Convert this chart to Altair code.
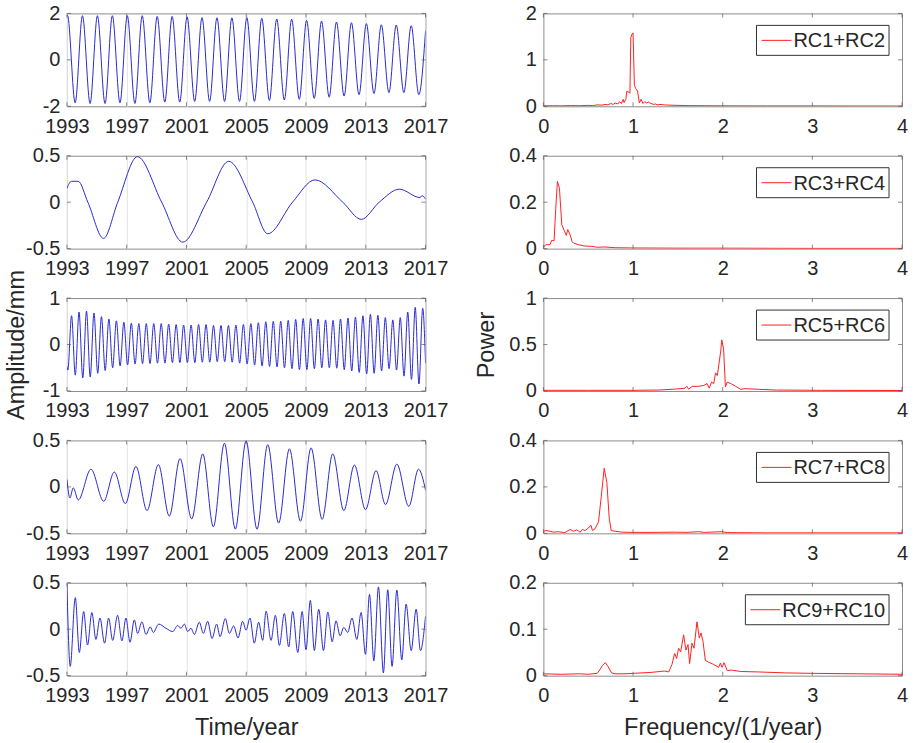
import altair as alt
import pandas as pd

FONT = "Liberation Sans"
TXT = "#262626"
BLUE = "#2a2ad0"
RED = "#ff2020"
W, H = 359, 93

YEAR_TICKS = [1993, 1997, 2001, 2005, 2009, 2013, 2017]
FREQ_TICKS = [0, 1, 2, 3, 4]

# ---------- reconstructed components (time, amplitude in mm) ----------
# RC1+RC2: annual cycle, listed by its maxima and minima
rc12_peak_t = [1993.0, 1993.04, 1994.04, 1995.04, 1996.04, 1997.04, 1998.04, 1999.04, 2000.04,
               2001.04, 2002.04, 2003.04, 2004.04, 2005.04, 2006.04, 2007.04, 2008.04,
               2009.04, 2010.04, 2011.04, 2012.04, 2013.04, 2014.04, 2015.04, 2016.04, 2017.0]
rc12_peak_v = [1.89, 1.91, 1.90, 1.90, 1.90, 1.90, 1.90, 1.87, 1.87,
               1.85, 1.82, 1.81, 1.81, 1.82, 1.79, 1.76, 1.75,
               1.70, 1.67, 1.63, 1.60, 1.56, 1.51, 1.50, 1.47, 1.25]
rc12_trough_t = [1993.55, 1994.55, 1995.55, 1996.55, 1997.55, 1998.55, 1999.55, 2000.55,
                 2001.55, 2002.55, 2003.55, 2004.55, 2005.55, 2006.55, 2007.55, 2008.55,
                 2009.55, 2010.55, 2011.55, 2012.55, 2013.55, 2014.55, 2015.55, 2016.55]
rc12_trough_v = [-1.85, -1.88, -1.88, -1.85, -1.88, -1.85, -1.82, -1.82,
                 -1.79, -1.79, -1.79, -1.79, -1.79, -1.75, -1.73, -1.70,
                 -1.66, -1.61, -1.56, -1.50, -1.45, -1.41, -1.41, -1.50]

# RC3+RC4: long-period oscillation
rc34_t = [1993.0, 1993.3, 1993.75, 1994.4, 1995.45, 1996.4, 1997.72, 1999.34, 2000.75,
          2002.35, 2003.83, 2005.43, 2006.44, 2008.1, 2009.6, 2011.46, 2012.7, 2013.9,
          2015.25, 2016.63, 2016.76, 2017.0]
rc34_v = [0.15, 0.225, 0.225, 0.0, -0.39, 0.0, 0.49, 0.0, -0.43,
          0.0, 0.44, 0.0, -0.34, 0.0, 0.24, 0.0, -0.185, 0.0,
          0.14, 0.05, 0.07, 0.035]

# RC5+RC6: semi-annual cycle
rc56_peak_t = [1993.31, 1993.81, 1994.31, 1994.81, 1995.31, 1995.81, 1996.31, 1996.81,
               1997.31, 1997.81, 1998.31, 1998.81, 1999.31, 1999.81, 2000.31, 2000.81,
               2001.31, 2001.81, 2002.31, 2002.81, 2003.31, 2003.81, 2004.31, 2004.81,
               2005.31, 2005.81, 2006.31, 2006.81, 2007.31, 2007.81, 2008.31, 2008.81,
               2009.31, 2009.81, 2010.31, 2010.81, 2011.31, 2011.81, 2012.31, 2012.81,
               2013.31, 2013.81, 2014.31, 2014.81, 2015.31, 2015.81, 2016.31, 2016.81]
rc56_peak_v = [0.62, 0.70, 0.72, 0.68, 0.60, 0.55, 0.51, 0.48,
               0.46, 0.45, 0.45, 0.45, 0.45, 0.44, 0.43, 0.42,
               0.42, 0.43, 0.43, 0.41, 0.41, 0.41, 0.42, 0.43,
               0.45, 0.47, 0.49, 0.50, 0.50, 0.52, 0.54, 0.56,
               0.56, 0.55, 0.53, 0.52, 0.55, 0.57, 0.59, 0.62,
               0.65, 0.63, 0.58, 0.53, 0.58, 0.70, 0.80, 0.78]
rc56_trough_t = [1993.0, 1993.06, 1993.56, 1994.06, 1994.56, 1995.06, 1995.56, 1996.06, 1996.56,
                 1997.06, 1997.56, 1998.06, 1998.56, 1999.06, 1999.56, 2000.06, 2000.56,
                 2001.06, 2001.56, 2002.06, 2002.56, 2003.06, 2003.56, 2004.06, 2004.56,
                 2005.06, 2005.56, 2006.06, 2006.56, 2007.06, 2007.56, 2008.06, 2008.56,
                 2009.06, 2009.56, 2010.06, 2010.56, 2011.06, 2011.56, 2012.06, 2012.56,
                 2013.06, 2013.56, 2014.06, 2014.56, 2015.06, 2015.56, 2016.06, 2016.56, 2017.0]
rc56_trough_v = [-0.47, -0.55, -0.66, -0.72, -0.70, -0.62, -0.56, -0.50, -0.46,
                 -0.44, -0.42, -0.41, -0.41, -0.40, -0.40, -0.39, -0.39,
                 -0.39, -0.39, -0.38, -0.38, -0.37, -0.37, -0.38, -0.40,
                 -0.42, -0.44, -0.46, -0.47, -0.48, -0.50, -0.52, -0.54,
                 -0.54, -0.52, -0.50, -0.50, -0.51, -0.54, -0.57, -0.60,
                 -0.63, -0.62, -0.57, -0.52, -0.55, -0.68, -0.75, -0.85, -0.40]

# RC7+RC8: ~1.5-year oscillation
rc78_t = [1993.0, 1993.2, 1993.42, 1993.76, 1994.61, 1995.46, 1996.17, 1996.91, 1997.62,
          1998.36, 1999.12, 1999.85, 2000.57, 2001.35, 2002.09, 2002.8, 2003.54, 2004.27,
          2004.99, 2005.72, 2006.44, 2007.17, 2007.89, 2008.63, 2009.34, 2010.08, 2010.79,
          2011.53, 2012.24, 2012.98, 2013.69, 2014.32, 2015.08, 2015.88, 2016.53, 2017.0]
rc78_v = [0.08, -0.12, -0.01, -0.14, 0.19, -0.155, 0.16, -0.18, 0.22,
          -0.255, 0.24, -0.315, 0.305, -0.345, 0.355, -0.43, 0.47, -0.455,
          0.495, -0.455, 0.455, -0.39, 0.41, -0.37, 0.42, -0.35, 0.355,
          -0.255, 0.235, -0.245, 0.175, -0.19, 0.245, -0.21, 0.19, -0.035]

# RC9+RC10: higher-frequency mixed oscillation
rc910_t = [1993.0, 1993.22, 1993.56, 1993.83, 1994.12, 1994.38, 1994.67, 1994.94, 1995.21,
           1995.52, 1995.79, 1996.06, 1996.39, 1996.68, 1996.95, 1997.22, 1997.51, 1997.73,
           1998.02, 1998.29, 1998.58, 1998.78, 1999.14, 1999.63, 2000.08, 2000.41, 2000.63,
           2000.86, 2001.08, 2001.3, 2001.53, 2001.86, 2002.13, 2002.42, 2002.71, 2003.02,
           2003.25, 2003.6, 2003.87, 2004.16, 2004.45, 2004.76, 2004.99, 2005.25, 2005.54,
           2005.83, 2006.1, 2006.33, 2006.66, 2006.95, 2007.22, 2007.55, 2007.84, 2008.11,
           2008.45, 2008.74, 2009.0, 2009.29, 2009.56, 2009.85, 2010.17, 2010.46, 2010.75,
           2011.01, 2011.28, 2011.53, 2011.79, 2012.08, 2012.4, 2012.69, 2012.98, 2013.25,
           2013.54, 2013.85, 2014.18, 2014.47, 2014.76, 2015.08, 2015.41, 2015.7, 2016.04,
           2016.37, 2016.66, 2017.0]
rc910_v = [0.49, -0.40, 0.34, -0.25, 0.19, -0.17, 0.18, -0.11, 0.12,
           -0.15, 0.12, -0.12, 0.15, -0.125, 0.12, -0.14, 0.10, -0.045,
           0.08, -0.055, 0.025, -0.035, 0.055, 0.01, -0.025, 0.04, 0.01,
           0.055, -0.025, 0.01, -0.055, 0.075, -0.045, 0.085, -0.10, 0.055,
           -0.08, 0.115, -0.045, 0.035, -0.095, 0.085, -0.01, 0.12, -0.15,
           0.075, -0.12, 0.195, -0.12, 0.15, -0.175, 0.17, -0.19, 0.19,
           -0.25, 0.19, -0.22, 0.31, -0.23, 0.215, -0.23, 0.185, -0.135,
           0.09, -0.07, 0.02, -0.035, 0.12, -0.11, 0.18, -0.27, 0.375,
           -0.34, 0.455, -0.47, 0.425, -0.40, 0.42, -0.33, 0.27, -0.23,
           0.215, -0.23, 0.14]

# ---------- power spectra (frequency in 1/year) ----------
sp12_f = [0, 0.1, 0.2, 0.3, 0.4, 0.5, 0.55, 0.6, 0.65, 0.7, 0.72, 0.75, 0.78, 0.8, 0.83, 0.85,
          0.87, 0.89, 0.9, 0.92, 0.93, 0.95, 0.965, 0.975, 0.99, 1.0, 1.015, 1.03, 1.05, 1.07,
          1.09, 1.11, 1.13, 1.15, 1.17, 1.2, 1.23, 1.25, 1.27, 1.3, 1.35, 1.4, 1.5, 1.6, 1.8,
          2.0, 2.5, 3.0, 3.5, 4.0]
sp12_p = [0.01, 0.012, 0.01, 0.015, 0.012, 0.02, 0.015, 0.03, 0.025, 0.04, 0.03, 0.06, 0.04,
          0.07, 0.05, 0.1, 0.06, 0.15, 0.08, 0.15, 0.32, 0.31, 0.28, 1.48, 1.56, 1.58, 0.45,
          0.38, 0.33, 0.07, 0.15, 0.06, 0.1, 0.07, 0.09, 0.06, 0.04, 0.05, 0.03, 0.04, 0.03,
          0.025, 0.02, 0.015, 0.012, 0.01, 0.008, 0.008, 0.006, 0.005]

sp34_f = [0, 0.026, 0.074, 0.093, 0.119, 0.138, 0.156, 0.179, 0.205, 0.235, 0.255, 0.272,
          0.298, 0.32, 0.335, 0.39, 0.465, 0.54, 0.6, 0.69, 0.8, 0.99, 1.5, 2.0, 3.0, 4.0]
sp34_p = [0.005, 0.017, 0.017, 0.036, 0.034, 0.174, 0.289, 0.26, 0.103, 0.075, 0.057, 0.082,
          0.06, 0.03, 0.024, 0.017, 0.011, 0.01, 0.006, 0.007, 0.004, 0.003, 0.002, 0.002,
          0.001, 0.001]

sp56_f = [0, 0.5, 1.0, 1.285, 1.47, 1.58, 1.60, 1.62, 1.66, 1.73, 1.79, 1.825, 1.85, 1.875,
          1.90, 1.92, 1.94, 1.955, 1.978, 1.99, 2.01, 2.03, 2.05, 2.09, 2.14, 2.20, 2.25, 2.40,
          2.60, 3.10, 4.0]
sp56_p = [0.007, 0.007, 0.007, 0.01, 0.02, 0.03, 0.05, 0.02, 0.05, 0.05, 0.06, 0.08, 0.03,
          0.095, 0.08, 0.195, 0.166, 0.27, 0.43, 0.55, 0.45, 0.043, 0.095, 0.08, 0.053, 0.018,
          0.025, 0.018, 0.01, 0.007, 0.005]

sp78_f = [0, 0.026, 0.074, 0.112, 0.168, 0.24, 0.298, 0.335, 0.37, 0.41, 0.436, 0.465, 0.503,
          0.53, 0.547, 0.577, 0.615, 0.645, 0.678, 0.708, 0.734, 0.756, 0.8, 0.875, 0.99, 1.2,
          1.47, 1.6, 1.73, 1.8, 1.99, 2.05, 2.5, 3.0, 4.0]
sp78_p = [0.007, 0.012, 0.009, 0.005, 0.007, 0.003, 0.017, 0.009, 0.015, 0.005, 0.017, 0.012,
          0.023, 0.035, 0.012, 0.02, 0.05, 0.157, 0.28, 0.218, 0.065, 0.012, 0.009, 0.005,
          0.004, 0.004, 0.005, 0.004, 0.007, 0.004, 0.007, 0.003, 0.002, 0.002, 0.002]

sp910_f = [0, 0.2, 0.4, 0.5, 0.6, 0.62, 0.66, 0.69, 0.72, 0.76, 0.8, 0.9, 1.0, 1.1, 1.2, 1.3,
           1.35, 1.397, 1.434, 1.464, 1.486, 1.508, 1.531, 1.564, 1.59, 1.613, 1.631, 1.657,
           1.68, 1.713, 1.739, 1.758, 1.78, 1.806, 1.844, 1.9, 1.955, 1.974, 1.993, 2.015,
           2.05, 2.1, 2.2, 2.4, 2.7, 3.0, 3.5, 4.0]
sp910_p = [0.004, 0.003, 0.004, 0.003, 0.005, 0.01, 0.022, 0.028, 0.02, 0.006, 0.004, 0.004,
           0.005, 0.006, 0.007, 0.009, 0.01, 0.008, 0.024, 0.048, 0.037, 0.059, 0.051, 0.088,
           0.055, 0.067, 0.026, 0.07, 0.059, 0.116, 0.081, 0.092, 0.074, 0.033, 0.029, 0.024,
           0.018, 0.027, 0.018, 0.028, 0.011, 0.012, 0.009, 0.008, 0.006, 0.005, 0.004, 0.003]

SERIES_NAMES = ["RC1+RC2", "RC3+RC4", "RC5+RC6", "RC7+RC8", "RC9+RC10"]


def merged(t_lists, v_lists):
    t = [x for lst in t_lists for x in lst]
    v = [x for lst in v_lists for x in lst]
    return pd.DataFrame({"t": t, "v": v}).sort_values("t").reset_index(drop=True)


components = [
    (merged([rc12_peak_t, rc12_trough_t], [rc12_peak_v, rc12_trough_v]), [-2, 2], [-2, 0, 2]),
    (merged([rc34_t], [rc34_v]), [-0.5, 0.5], [-0.5, 0, 0.5]),
    (merged([rc56_peak_t, rc56_trough_t], [rc56_peak_v, rc56_trough_v]), [-1, 1], [-1, 0, 1]),
    (merged([rc78_t], [rc78_v]), [-0.5, 0.5], [-0.5, 0, 0.5]),
    (merged([rc910_t], [rc910_v]), [-0.5, 0.5], [-0.5, 0, 0.5]),
]

spectra = [
    (sp12_f, sp12_p, [0, 2], [0, 1, 2]),
    (sp34_f, sp34_p, [0, 0.4], [0, 0.2, 0.4]),
    (sp56_f, sp56_p, [0, 1], [0, 0.5, 1]),
    (sp78_f, sp78_p, [0, 0.4], [0, 0.2, 0.4]),
    (sp910_f, sp910_p, [0, 0.2], [0, 0.1, 0.2]),
]

# approximate Arial advance widths (em) used to size the legend box
CHAR_EM = {"R": 0.722, "C": 0.722, "+": 0.584}
LEGEND_FS = 20


def text_width(s, fs):
    return sum(CHAR_EM.get(ch, 0.556) for ch in s) * fs


def inner_ticks(xvals, yvals, xenc, yenc):
    """Short inward tick marks on all four sides of the box."""
    xdf = pd.DataFrame({"t": xvals})
    ydf = pd.DataFrame({"v": yvals})
    layers = []
    for ypix in (2, H - 2):
        layers.append(alt.Chart(xdf).mark_tick(color="#555555", size=4, thickness=1).encode(
            x=xenc, y=alt.value(ypix)))
    for xpix in (2, W - 2):
        layers.append(alt.Chart(ydf).mark_tick(color="#555555", size=4, thickness=1).encode(
            y=yenc, x=alt.value(xpix)))
    return layers


def legend_box(name):
    """Boxed legend in the top-right corner: red sample line plus series name."""
    df = pd.DataFrame({"series": [name]})
    right, top, bh = W - 13, 12, 30
    left = right - (41 + text_width(name, LEGEND_FS))
    mid = top + bh / 2
    box = alt.Chart(df).mark_rect(fill="white", stroke="#333333", strokeWidth=1).encode(
        x=alt.value(left), x2=alt.value(right), y=alt.value(top), y2=alt.value(top + bh))
    sample = alt.Chart(df).mark_rule(color=RED, strokeWidth=1).encode(
        x=alt.value(left + 5), x2=alt.value(left + 35), y=alt.value(mid))
    label = alt.Chart(df).mark_text(align="left", baseline="middle", font=FONT,
                                    fontSize=LEGEND_FS, color=TXT).encode(
        text="series:N", x=alt.value(left + 37), y=alt.value(mid + 1))
    return [box, sample, label]


def left_panel(i):
    df, ydom, yticks = components[i]
    xenc = alt.X("t:Q", scale=alt.Scale(domain=[1993, 2017], nice=False, zero=False),
                 axis=alt.Axis(values=YEAR_TICKS, format="d", grid=True, gridColor="#e3e3e3",
                               labelFlush=False, labelOverlap=False),
                 title="Time/year" if i == 4 else None)
    yenc = alt.Y("v:Q", scale=alt.Scale(domain=ydom, nice=False, zero=False),
                 axis=alt.Axis(values=yticks, labelExpr="toString(datum.value)", grid=False,
                               labelFlush=False, labelOverlap=False, titlePadding=14),
                 title="Amplitude/mm" if i == 2 else None)
    line = alt.Chart(df).mark_line(color=BLUE, strokeWidth=1, interpolate="monotone",
                                   clip=True).encode(x=xenc, y=yenc)
    return alt.layer(line, *inner_ticks(YEAR_TICKS, yticks, xenc, yenc)).properties(width=W, height=H)


def right_panel(i):
    f, p, ydom, yticks = spectra[i]
    df = pd.DataFrame({"t": f, "v": p})
    xenc = alt.X("t:Q", scale=alt.Scale(domain=[0, 4], nice=False, zero=False),
                 axis=alt.Axis(values=FREQ_TICKS, grid=False, labelFlush=False, labelOverlap=False),
                 title="Frequency/(1/year)" if i == 4 else None)
    yenc = alt.Y("v:Q", scale=alt.Scale(domain=ydom, nice=False, zero=False),
                 axis=alt.Axis(values=yticks, labelExpr="toString(datum.value)", grid=False,
                               labelFlush=False, labelOverlap=False, titlePadding=10),
                 title="Power" if i == 2 else None)
    line = alt.Chart(df).mark_line(color=RED, strokeWidth=1, clip=True).encode(x=xenc, y=yenc)
    return alt.layer(line, *inner_ticks(FREQ_TICKS, yticks, xenc, yenc),
                     *legend_box(SERIES_NAMES[i])).properties(width=W, height=H)


# 5 x 2 grid, filled row by row: component on the left, its spectrum on the right
panels = []
for i in range(5):
    panels.append(left_panel(i))
    panels.append(right_panel(i))

chart = alt.concat(*panels, columns=2, spacing={"row": 49.5, "column": 118},
                   bounds="flush").resolve_scale(
    x="independent", y="independent"
).properties(
    padding={"left": 3, "top": 2, "right": 5, "bottom": 5},
    background="white",
).configure_view(
    stroke="#8c8c8c", strokeWidth=1
).configure_axis(
    domain=False, ticks=False,
    labelFont=FONT, labelFontSize=20, labelColor=TXT, labelPadding=7,
    titleFont=FONT, titleFontSize=23.5, titleFontWeight="normal", titleColor=TXT,
).configure_axisX(
    labelPadding=10, titlePadding=10,
)

chart.save("out.html", embed_options={"renderer": "svg", "actions": False})
